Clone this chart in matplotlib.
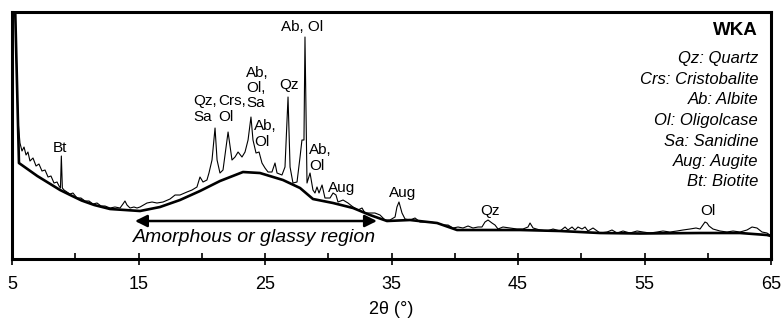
import numpy as np
import matplotlib
matplotlib.use("Agg")
import matplotlib.pyplot as plt

plt.rcParams['font.family'] = ['Liberation Sans', 'DejaVu Sans']

# measured XRD pattern (2theta in degrees, intensity in a.u.)
two_theta = [5.25, 5.47, 5.63, 5.79, 5.95, 6.11, 6.26, 6.42, 6.66, 6.90, 7.13, 7.37, 7.61,
             7.85, 8.08, 8.32, 8.56, 8.72, 8.83, 8.90, 8.98, 9.11, 9.35, 9.58, 9.82, 10.14,
             10.45, 10.77, 11.09, 11.40, 11.72, 12.04, 12.35, 12.75, 13.14, 13.54, 13.77,
             13.93, 14.09, 14.33, 14.64, 14.88, 15.12, 15.67, 16.07, 16.46, 16.94, 17.49,
             17.89, 18.28, 18.83, 19.23, 19.62, 19.86, 20.10, 20.41, 20.57, 20.81, 21.05,
             21.21, 21.44, 21.68, 22.08, 22.39, 22.63, 22.87, 23.18, 23.42, 23.66, 23.89,
             24.05, 24.29, 24.53, 24.76, 25.00, 25.24, 25.55, 25.79, 25.95, 26.34, 26.58,
             26.82, 26.98, 27.21, 27.53, 27.77, 27.92, 28.08, 28.16, 28.32, 28.56, 28.79,
             28.95, 29.11, 29.27, 29.51, 29.74, 30.14, 30.38, 30.61, 30.77, 31.17, 31.56,
             31.96, 32.35, 32.67, 32.90, 33.30, 33.69, 34.09, 34.49, 34.88, 35.28, 35.43,
             35.59, 35.83, 36.07, 36.46, 36.86, 37.25, 37.65, 38.04, 38.60, 39.07, 39.47,
             39.86, 40.26, 40.65, 41.05, 41.44, 41.84, 42.15, 42.39, 42.63, 42.94, 43.18,
             43.42, 43.81, 44.37, 44.92, 45.39, 45.79, 45.95, 46.19, 46.74, 47.29, 47.77,
             48.32, 48.72, 48.95, 49.27, 49.51, 49.74, 50.06, 50.30, 50.53, 50.93, 51.48,
             52.04, 52.43, 52.83, 53.30, 53.85, 54.41, 54.88, 55.43, 55.99, 56.46, 57.01,
             57.57, 58.04, 58.60, 59.07, 59.39, 59.78, 59.94, 60.10, 60.41, 60.97, 61.52,
             62.00, 62.55, 63.10, 63.50, 63.89, 64.29, 64.68, 64.92]
intensity = [250, 139, 116, 108, 112, 104, 107, 98, 101, 93, 95, 88, 89,
             82, 83, 76, 77, 73, 71, 103, 71, 69, 67, 65, 66, 61,
             61, 58, 58, 55, 56, 53, 53, 51, 52, 51, 55,
             58, 54, 51, 52, 51, 52, 56, 57, 56, 57, 60,
             64, 64, 67, 69, 72, 82, 77, 79, 86, 99, 131,
             99, 86, 89, 127, 99, 102, 107, 102, 107, 119, 142,
             119, 106, 107, 96, 91, 87, 87, 96, 86, 84, 92,
             162, 92, 76, 77, 102, 119, 119, 222, 76, 86, 69,
             66, 72, 66, 74, 61, 61, 66, 64, 57, 59, 56,
             52, 49, 51, 46, 46, 46, 44, 39, 39, 42, 52,
             57, 46, 40, 39, 41, 37, 37, 37, 36, 34, 34,
             31, 32, 31, 33, 31, 32, 32, 37, 39, 36, 34,
             30, 32, 31, 30, 30, 32, 36, 31, 29, 28, 30,
             28, 32, 29, 32, 29, 32, 30, 32, 28, 31, 26,
             27, 29, 26, 28, 26, 28, 27, 26, 27, 28, 27,
             28, 29, 30, 31, 30, 37, 36, 33, 30, 28, 27,
             28, 27, 29, 32, 31, 27, 26, 24]

# fitted amorphous background
bg_theta = [5.25, 5.55, 7.0, 8.8, 9.6, 10.5, 11.5, 12.75, 15.12, 16.70, 18.28, 19.86,
            21.44, 23.26, 24.60, 26.42, 27.77, 28.79, 30.38, 31.96, 33.30, 34.64, 36.46,
            38.60, 40.18, 42.0, 45.16, 48.32, 51.48, 54.64, 59.39, 62.55, 64.68, 65.0]
bg_int = [250, 96, 83, 69, 64, 58.5, 54, 50, 48, 52, 59, 68,
          78, 87, 86, 79, 71, 60, 56, 51, 44, 38, 39,
          36, 29, 29, 29, 28, 26, 25.5, 26, 26, 24, 23]

# peak labels: (text, x, y, horizontal alignment)
peak_labels = [("Bt", 8.80, 111, "center"),
               ("Qz,\nSa", 19.35, 150, "left"),
               ("Crs,\nOl", 21.29, 150, "left"),
               ("Ab,\nOl,\nSa", 23.50, 171, "left"),
               ("Ab,\nOl", 24.13, 125, "left"),
               ("Qz", 26.11, 174, "left"),
               ("Ab, Ol", 26.27, 232, "left"),
               ("Ab,\nOl", 28.48, 101, "left"),
               ("Aug", 29.98, 71, "left"),
               ("Aug", 34.80, 66, "left"),
               ("Qz", 42.79, 48, "center"),
               ("Ol", 60.02, 48, "center")]

legend_lines = ["Qz: Quartz", "Crs: Cristobalite", "Ab: Albite", "Ol: Oligolcase",
                "Sa: Sanidine", "Aug: Augite", "Bt: Biotite"]

fig = plt.figure(figsize=(7.82, 3.24), dpi=100)
ax = fig.add_axes([0.01535, 0.2006, 0.9706, 0.7623])

ax.plot(two_theta, intensity, color='black', lw=0.8)
ax.plot(bg_theta, bg_int, color='black', lw=1.9)

for txt, x, y, ha in peak_labels:
    ax.text(x, y, txt, ha=ha, va='center', fontsize=11, linespacing=1.1)

# amorphous region arrow
ax.annotate('', xy=(14.72, 38), xytext=(33.85, 38),
            arrowprops=dict(arrowstyle='<|-|>', color='black', lw=1.8,
                            mutation_scale=18, shrinkA=0, shrinkB=0))
ax.text(24.2, 22, 'Amorphous or glassy region', ha='center', va='center',
        fontsize=14, style='italic')

ax.text(0.983, 0.927, 'WKA', transform=ax.transAxes, ha='right', va='center',
        fontsize=13.5, fontweight='bold')
ys = [0.810, 0.725, 0.644, 0.559, 0.474, 0.393, 0.312]
for s, y in zip(legend_lines, ys):
    ax.text(0.983, y, s, transform=ax.transAxes, ha='right', va='center',
            fontsize=12, style='italic')

ax.set_xlim(5, 65)
ax.set_ylim(0, 247)
ax.set_xticks(np.arange(5, 66, 10))
ax.set_xticks(np.arange(10, 65, 10), minor=True)
ax.set_yticks([])
ax.tick_params(axis='x', which='major', direction='inout', length=9, width=1.2,
               labelsize=13, pad=7.5)
ax.tick_params(axis='x', which='minor', direction='in', length=4, width=1.2)
ax.set_xlabel('2θ (°)', fontsize=13, labelpad=6)
for sp in ax.spines.values():
    sp.set_linewidth(2.2)

plt.savefig('out.png', dpi=100)
